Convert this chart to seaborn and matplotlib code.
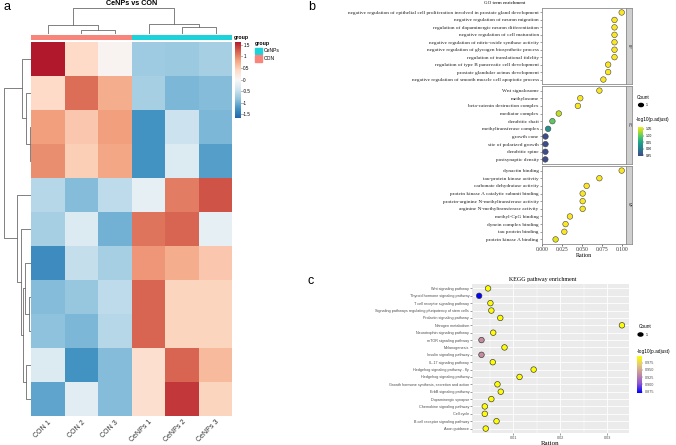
import numpy as np
import pandas as pd
import matplotlib.pyplot as plt
import seaborn as sns
from matplotlib.colors import LinearSegmentedColormap, ListedColormap, Normalize
from matplotlib.patches import Rectangle
from matplotlib.cm import ScalarMappable

plt.rcParams["font.family"] = ["Liberation Sans", "DejaVu Sans"]
SERIF = ["Liberation Serif", "DejaVu Serif"]

# ---------------- panel a : heatmap data ----------------
samples = ["CON 1", "CON 2", "CON 3", "CeNPs 1", "CeNPs 2", "CeNPs 3"]
groups = ["CON", "CON", "CON", "CeNPs", "CeNPs", "CeNPs"]
zscores = [
    [1.64, 0.40, 0.05, -0.75, -0.78, -0.70],
    [0.40, 1.15, 0.75, -0.70, -0.95, -0.90],
    [0.85, 0.55, 0.85, -1.25, -0.45, -0.95],
    [0.95, 0.50, 0.80, -1.25, -0.30, -1.15],
    [-0.60, -0.90, -0.55, -0.20, 1.05, 1.30],
    [-0.70, -0.30, -1.00, 1.10, 1.20, -0.20],
    [-1.30, -0.50, -0.70, 0.90, 0.75, 0.55],
    [-0.90, -0.80, -0.55, 1.20, 0.45, 0.45],
    [-0.85, -0.95, -0.60, 1.20, 0.45, 0.45],
    [-0.30, -1.25, -0.90, 0.35, 1.20, 0.65],
    [-1.10, -0.25, -0.90, 0.35, 1.45, 0.45],
]
# merges: (child a, child b, height); leaves 0..n-1, new clusters numbered n, n+1, ...
col_merges = [(1, 2, 0.15), (0, 6, 0.35), (4, 5, 0.27), (3, 8, 0.38), (7, 9, 1.0)]
row_merges = [(2, 3, 0.04), (1, 11, 0.185), (0, 12, 0.33), (7, 8, 0.056), (6, 14, 0.22),
              (9, 10, 0.185), (15, 16, 0.30), (5, 17, 0.37), (4, 18, 0.52), (13, 19, 1.0)]
group_colors = {"CON": "#F8857C", "CeNPs": "#1CD2DB"}

# ---------------- panel b : GO enrichment ----------------
bp_terms = ["negative regulation of epithelial cell proliferation involved in prostate gland development",
            "negative regulation of neuron migration",
            "regulation of dopaminergic neuron differentiation",
            "negative regulation of cell maturation",
            "negative regulation of nitric-oxide synthase activity",
            "negative regulation of glycogen biosynthetic process",
            "regulation of translational fidelity",
            "regulation of type B pancreatic cell development",
            "prostate glandular acinus development",
            "negative regulation of smooth muscle cell apoptotic process"]
bp_ratio = [0.100, 0.091, 0.091, 0.091, 0.091, 0.091, 0.091, 0.083, 0.083, 0.077]
bp_logp = [1.065] * 10

cc_terms = ["Wnt signalosome", "methylosome", "beta-catenin destruction complex", "mediator complex",
            "dendritic shaft", "methyltransferase complex", "growth cone", "site of polarized growth",
            "dendritic spine", "postsynaptic density"]
cc_ratio = [0.072, 0.048, 0.045, 0.021, 0.013, 0.0076, 0.0043, 0.0043, 0.0042, 0.0041]
cc_logp = [1.065, 1.065, 1.065, 1.040, 0.995, 0.925, 0.848, 0.848, 0.848, 0.848]

mf_terms = ["dynactin binding", "tau-protein kinase activity", "carbonate dehydratase activity",
            "protein kinase A catalytic subunit binding", "protein-arginine N-methyltransferase activity",
            "arginine N-methyltransferase activity", "methyl-CpG binding", "dynein complex binding",
            "tau protein binding", "protein kinase A binding"]
mf_ratio = [0.100, 0.072, 0.056, 0.051, 0.051, 0.051, 0.035, 0.0295, 0.028, 0.017]
mf_logp = [1.065, 1.065, 1.065, 1.065, 1.065, 1.065, 1.065, 1.065, 1.065, 1.055]
facet_names = ["BP", "CC", "MF"]

# ---------------- panel c : KEGG enrichment ----------------
kegg_terms = ["Wnt signaling pathway", "Thyroid hormone signaling pathway", "T cell receptor signaling pathway",
              "Signaling pathways regulating pluripotency of stem cells", "Prolactin signaling pathway",
              "Nitrogen metabolism", "Neurotrophin signaling pathway", "mTOR signaling pathway",
              "Melanogenesis", "Insulin signaling pathway", "IL-17 signaling pathway",
              "Hedgehog signaling pathway - fly", "Hedgehog signaling pathway",
              "Growth hormone synthesis, secretion and action", "ErbB signaling pathway",
              "Dopaminergic synapse", "Chemokine signaling pathway", "Cell cycle",
              "B cell receptor signaling pathway", "Axon guidance"]
kegg_ratio = [0.0046, 0.0027, 0.0051, 0.0053, 0.0072, 0.0331, 0.0057, 0.0032, 0.0081, 0.0032,
              0.0056, 0.0143, 0.0113, 0.0066, 0.0073, 0.0053, 0.0039, 0.0039, 0.0064, 0.0041]
kegg_logp = [0.997, 0.871, 0.997, 0.997, 0.997, 0.997, 0.997, 0.935, 0.997, 0.935,
             0.997, 0.997, 0.997, 0.997, 0.997, 0.997, 0.997, 0.997, 0.997, 0.997]

W, H = 676, 445
fig = plt.figure(figsize=(W / 100, H / 100), dpi=100)


def rect(x0, y0, x1, y1):
    return [x0 / W, 1 - y1 / H, (x1 - x0) / W, (y1 - y0) / H]


def draw_dendro(ax, merges, n, orient):
    pos = {i: i + 0.5 for i in range(n)}
    hgt = {i: 0.0 for i in range(n)}
    for k, (a, b, h) in enumerate(merges):
        xs = [pos[a], pos[a], pos[b], pos[b]]
        ys = [hgt[a], h, h, hgt[b]]
        if orient == "top":
            ax.plot(xs, ys, color="#6b6b6b", lw=0.6)
        else:
            ax.plot(ys, xs, color="#6b6b6b", lw=0.6)
        pos[n + k] = (pos[a] + pos[b]) / 2
        hgt[n + k] = h
    ax.axis("off")


# ===== panel a =====
hm = pd.DataFrame(zscores, columns=samples)
rdbu = LinearSegmentedColormap.from_list(
    "rdbu", ["#2166AC", "#4393C3", "#92C5DE", "#D1E5F0", "#F7F7F7",
             "#FDDBC7", "#F4A582", "#D6604D", "#B2182B"])
ax_hm = fig.add_axes(rect(31, 41.7, 232.5, 416))
ax_cb = fig.add_axes(rect(235, 41.7, 240.5, 118))
sns.heatmap(hm, ax=ax_hm, cmap=rdbu, vmin=-1.66, vmax=1.64, cbar_ax=ax_cb,
            xticklabels=True, yticklabels=False)
ax_hm.set_xticklabels(samples, rotation=45, ha="right", rotation_mode="anchor", fontsize=5, color="#333333")
ax_hm.tick_params(axis="x", length=0, pad=2)
ax_cb.set_yticks([1.5, 1, 0.5, 0, -0.5, -1, -1.5])
ax_cb.set_yticklabels(["1.5", "1", "0.5", "0", "-0.5", "-1", "-1.5"], fontsize=3.3)
ax_cb.tick_params(length=1, width=0.4, pad=1)
for s in ax_cb.spines.values():
    s.set_visible(False)

ax_grp = fig.add_axes(rect(31, 35, 232.5, 40))
codes = pd.DataFrame([[0 if g == "CON" else 1 for g in groups]])
sns.heatmap(codes, ax=ax_grp, cmap=ListedColormap([group_colors["CON"], group_colors["CeNPs"]]),
            vmin=0, vmax=1, cbar=False, xticklabels=False, yticklabels=False)
fig.text(234 / W, 1 - 38 / H, "group", fontsize=3.8, fontweight="bold", va="center")
fig.text(255 / W, 1 - 43.5 / H, "group", fontsize=3.8, fontweight="bold", va="center")
for i, g in enumerate(["CeNPs", "CON"]):
    y0 = 47.5 + i * 7.5
    fig.patches.append(Rectangle((255 / W, 1 - (y0 + 6.8) / H), 7.3 / W, 6.8 / H,
                                 transform=fig.transFigure, color=group_colors[g]))
    fig.text(264 / W, 1 - (y0 + 3.4) / H, g, fontsize=3.6, va="center")

ax_cd = fig.add_axes(rect(31, 5, 232.5, 34))
draw_dendro(ax_cd, col_merges, 6, "top")
ax_cd.set_xlim(0, 6)
ax_cd.set_ylim(0, 1.115)

ax_rd = fig.add_axes(rect(3, 41.7, 31, 416))
draw_dendro(ax_rd, row_merges, 11, "left")
ax_rd.set_xlim(1.037, 0)
ax_rd.set_ylim(11, 0)

fig.text(131.5 / W, 1 - 3.5 / H, "CeNPs vs CON", fontsize=5.2, fontweight="bold", ha="center", va="center")

# ===== panel b =====
go_cmap = LinearSegmentedColormap.from_list("vir", plt.cm.viridis(np.linspace(0.22, 1, 64)))
go_norm = (0.845, 1.067)
facets = [(bp_terms, bp_ratio, bp_logp), (cc_terms, cc_ratio, cc_logp), (mf_terms, mf_ratio, mf_logp)]
ybounds = [(8, 84), (86, 164), (166, 244)]
for i, ((terms, ratio, logp), (y0, y1)) in enumerate(zip(facets, ybounds)):
    ax = fig.add_axes(rect(541.5, y0, 625.5, y1))
    d = pd.DataFrame({"term": terms, "ratio": ratio, "logp": logp})
    sns.scatterplot(data=d, x="ratio", y="term", hue="logp", palette=go_cmap, hue_norm=go_norm,
                    s=16, edgecolor="#444444", linewidth=0.4, legend=False, ax=ax, zorder=3)
    ax.set_xlim(-0.0007, 0.1048)
    ax.set_ylim(len(terms) - 0.4, -0.6)
    ax.set_xlabel("")
    ax.set_ylabel("")
    ax.set_yticks(range(len(terms)))
    ax.set_yticklabels(terms, fontsize=3.8, family=SERIF, color="#222222")
    ax.tick_params(axis="y", length=1.2, width=0.4, pad=0.8, color="#555555")
    for s in ax.spines.values():
        s.set_color("#8c8c8c")
        s.set_linewidth(0.6)
    if i < 2:
        ax.set_xticks([])
    else:
        ax.set_xticks([0, 0.025, 0.05, 0.075, 0.1])
        ax.set_xticklabels(["0.000", "0.025", "0.050", "0.075", "0.100"], fontsize=4, family=SERIF,
                           color="#333333")
        ax.tick_params(axis="x", length=1.2, width=0.4, pad=1)
        ax.set_xlabel("Ration", fontsize=4.3, family=SERIF, labelpad=0.5)
    ax_s = fig.add_axes(rect(626, y0, 632, y1))
    ax_s.set_facecolor("#cfcfcf")
    ax_s.set_xticks([])
    ax_s.set_yticks([])
    for s in ax_s.spines.values():
        s.set_color("#8c8c8c")
        s.set_linewidth(0.6)
    ax_s.text(0.5, 0.5, facet_names[i], rotation=270, fontsize=2.6, ha="center", va="center",
              transform=ax_s.transAxes, color="#333333")

fig.text(505 / W, 1 - 3 / H, "GO term enrichment", fontsize=3.6, family=SERIF, ha="center", va="center")
fig.text(637 / W, 1 - 97.5 / H, "Count", fontsize=3.4, va="center")
fig.patches.append(plt.Circle((641 / W, 1 - 105 / H), 2.4 / W, transform=fig.transFigure, color="black"))
fig.text(646 / W, 1 - 105 / H, "1", fontsize=2.6, va="center")
fig.text(636 / W, 1 - 119.5 / H, "-log10(p.adjust)", fontsize=3.4, va="center")
cax_b = fig.add_axes(rect(637.5, 126.7, 642.7, 156))
cb = fig.colorbar(ScalarMappable(Normalize(*go_norm), go_cmap), cax=cax_b)
cb.set_ticks([0.85, 0.9, 0.95, 1.0, 1.05])
cb.set_ticklabels(["0.85", "0.90", "0.95", "1.00", "1.05"])
cb.ax.tick_params(labelsize=2.3, length=1, width=0.3, pad=1)
cb.outline.set_visible(False)

# ===== panel c =====
kegg_cmap = LinearSegmentedColormap.from_list("by", ["#0000FF", "#8a55d8", "#c48aa2", "#e0c67e", "#FFFF00"])
kegg_norm = (0.8705, 0.998)
axc = fig.add_axes(rect(472, 284, 629, 433))
axc.set_facecolor("#EBEBEB")
kd = pd.DataFrame({"term": kegg_terms, "ratio": kegg_ratio, "logp": kegg_logp})
sns.scatterplot(data=kd, x="ratio", y="term", hue="logp", palette=kegg_cmap, hue_norm=kegg_norm,
                s=16, edgecolor="#333333", linewidth=0.45, legend=False, ax=axc, zorder=3)
axc.set_xlim(0.00118, 0.0346)
axc.set_ylim(len(kegg_terms) - 0.4, -0.6)
axc.set_xticks([0.01, 0.02, 0.03])
axc.set_xticks([0.005, 0.015, 0.025], minor=True)
axc.set_xticklabels(["0.01", "0.02", "0.03"], fontsize=2.7, color="#4d4d4d")
axc.set_yticks(range(len(kegg_terms)))
axc.set_yticklabels(kegg_terms, fontsize=2.7, color="#4d4d4d")
axc.grid(which="major", color="white", lw=0.6)
axc.grid(which="minor", axis="x", color="white", lw=0.3)
axc.set_axisbelow(True)
axc.tick_params(which="major", length=1.2, width=0.4, pad=0.8, color="#4d4d4d")
axc.tick_params(which="minor", length=0)
for s in axc.spines.values():
    s.set_visible(False)
axc.set_xlabel("Ration", fontsize=5, family=SERIF, labelpad=1)
axc.set_ylabel("")

fig.text(543 / W, 1 - 279 / H, "KEGG pathway enrichment", fontsize=4.3, family=SERIF, ha="center", va="center")
fig.text(639 / W, 1 - 327 / H, "Count", fontsize=3.4, va="center")
fig.patches.append(plt.Circle((640.5 / W, 1 - 334.5 / H), 2.4 / W, transform=fig.transFigure, color="black"))
fig.text(645.5 / W, 1 - 334.5 / H, "1", fontsize=2.6, va="center")
fig.text(637 / W, 1 - 351.5 / H, "-log10(p.adjust)", fontsize=3.4, va="center")
cax_c = fig.add_axes(rect(637.3, 356, 642.3, 393))
cb2 = fig.colorbar(ScalarMappable(Normalize(*kegg_norm), kegg_cmap), cax=cax_c)
cb2.set_ticks([0.875, 0.9, 0.925, 0.95, 0.975])
cb2.set_ticklabels(["0.875", "0.900", "0.925", "0.950", "0.975"])
cb2.ax.tick_params(labelsize=2.7, length=1, width=0.3, pad=1, colors="#4d4d4d")
cb2.outline.set_visible(False)

# panel letters
fig.text(3 / W, 1 - 7 / H, "a", fontsize=9, va="center")
fig.text(308 / W, 1 - 7 / H, "b", fontsize=9, va="center")
fig.text(308 / W, 1 - 281 / H, "c", fontsize=9, va="center")

fig.savefig("out.png", dpi=100)
